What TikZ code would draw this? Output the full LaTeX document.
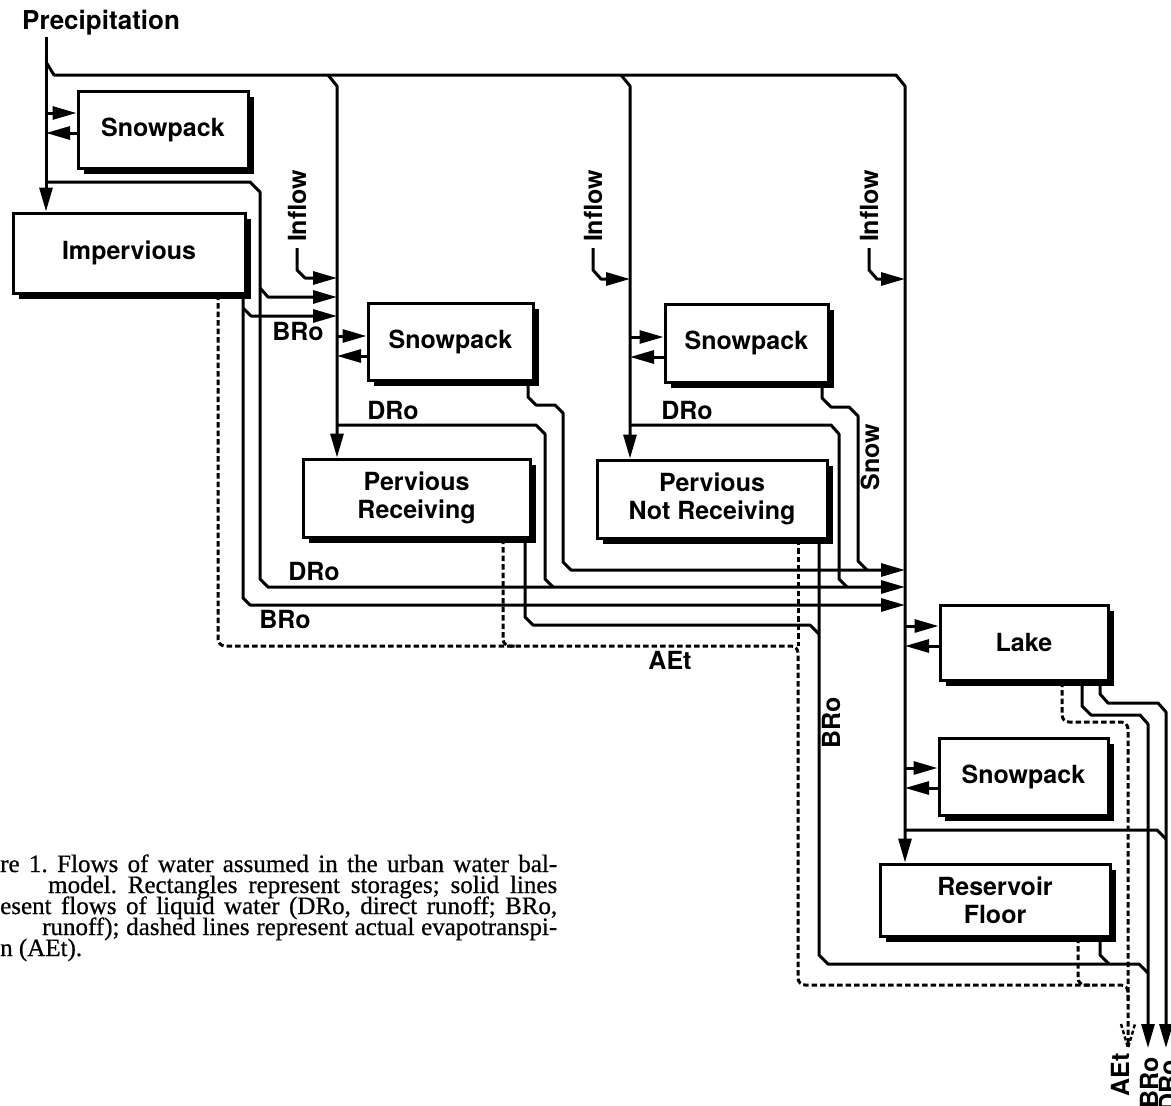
\documentclass[tikz,border=0pt]{standalone}
\usepackage{fontspec}
\setmainfont{Liberation Serif}[FakeBold=0.6]
\newfontfamily\hv{TeX Gyre Heros}
\usetikzlibrary{arrows.meta,shadows}
\newcommand\capfont{\fontsize{25}{21}\selectfont\frenchspacing\lineskiplimit=-50pt\relax}
\begin{document}
\begin{tikzpicture}[x=1pt,y=-1pt,
  lab/.style={font=\hv\bfseries\fontsize{25}{28}\selectfont, inner sep=0pt},
  store/.style={lab, draw, line width=3pt, fill=white, align=center,
    drop shadow={shadow xshift=5.5pt, shadow yshift=-5.5pt, fill=black, opacity=1}},
  flow/.style={line width=3pt, line join=round},
  arr/.style={flow, -{Triangle[length=24pt,width=13pt]}},
  aet/.style={line width=3pt, dash pattern=on 5.5pt off 3pt, rounded corners=7pt},
  captext/.style={inner sep=0pt, anchor=base west, font=\capfont},
]
\useasboundingbox (0,0) rectangle (1171,1106);

% ---------- storages ----------
\node[store, minimum width=170pt, minimum height=77pt] (snowA) at (163,129.5) {Snowpack};
\node[store, minimum width=232pt, minimum height=80pt] (imp) at (129,253) {Impervious};
\node[store, minimum width=165pt, minimum height=77pt] (snowB) at (450.5,341.5) {Snowpack};
\node[store, minimum width=227pt, minimum height=78pt] (pervR) at (416.5,498) {Pervious\\Receiving};
\node[store, minimum width=163pt, minimum height=78pt] (snowC) at (746.5,343) {Snowpack};
\node[store, minimum width=230pt, minimum height=78pt] (pervN) at (712,499) {Pervious\\Not Receiving};
\node[store, minimum width=168pt, minimum height=75pt] (lake) at (1024,642.5) {Lake};
\node[store, minimum width=169pt, minimum height=77pt] (snowD) at (1023.5,776.5) {Snowpack};
\node[store, minimum width=230pt, minimum height=72pt] (res) at (995,900) {Reservoir\\Floor};

% ---------- precipitation ----------
\node[lab, anchor=base west, font=\hv\bfseries\fontsize{26}{28}\selectfont] (prec) at (22,29) {Precipitation};
\coordinate (pTop) at (46,37);
\draw[arr] (pTop) -- (pTop |- imp.north);
\draw[arr] (46,62) -- (54,75) -- (896,75) -- (905,86) -- (905,0 |- res.north);
\draw[arr] (328,75) -- (337,86) -- (337,0 |- pervR.north);
\draw[arr] (621,75) -- (630,86) -- (630,0 |- pervN.north);

% snowpack A exchange
\draw[arr] (46,113) -- (46,113 -| snowA.west);
\draw[arr] (46,133 -| snowA.west) -- (46,133);

% bypass of precipitation / impervious runoff
\draw[arr] (46,182) -- (250,182) -- (260,192) -- (260,579) -- (268,587) -- (905,587);
\draw[arr] (260,288) -- (268,297) -- (337,297);
\draw[arr] (243,0 |- imp.south) -- (243,598) -- (250,605) -- (905,605);
\draw[arr] (243,308) -- (251,316) -- (337,316);

% inflows
\node[lab, rotate=90] (in1) at (297,206) {Inflow};
\node[lab, rotate=90] (in2) at (593,206) {Inflow};
\node[lab, rotate=90] (in3) at (869,206) {Inflow};
\draw[arr] ([yshift=-6pt]in1.west) -- (297,270) -- (305,278) -- (337,278);
\draw[arr] ([yshift=-6pt]in2.west) -- (593,270) -- (601,279) -- (630,279);
\draw[arr] ([yshift=-6pt]in3.west) -- (869,270) -- (877,279) -- (905,279);

% snowpack exchanges
\draw[arr] (337,336) -- (337,336 -| snowB.west);
\draw[arr] (337,356 -| snowB.west) -- (337,356);
\draw[arr] (630,337) -- (630,337 -| snowC.west);
\draw[arr] (630,357 -| snowC.west) -- (630,357);
\draw[arr] (905,626) -- (905,626 -| lake.west);
\draw[arr] (905,646 -| lake.west) -- (905,646);
\draw[arr] (905,768) -- (905,768 -| snowD.west);
\draw[arr] (905,788 -| snowD.west) -- (905,788);

% snowmelt
\draw[arr] (528,0 |- snowB.south) -- (528,397) -- (536,405) -- (555,405) -- (563,413)
  -- (563,562) -- (571,570) -- (905,570);
\draw[flow] (822,0 |- snowC.south) -- (822,398) -- (831,407) -- (849,407) -- (858,416)
  -- (858,561) -- (867,570);
\node[lab, rotate=90] (snowlbl) at (870,457) {Snow};

% direct runoff from pervious areas
\draw[flow] (337,425) -- (536,425) -- (545,434) -- (545,579) -- (553,587);
\draw[flow] (630,425) -- (831,425) -- (839,434) -- (839,579) -- (847,587);

% base runoff
\draw[flow] (525,0 |- pervR.south) -- (525,617) -- (533,625) -- (810,625) -- (819,634);
\draw[flow] (819,0 |- pervN.south) -- (819,955) -- (828,964) -- (1139,964) -- (1148,973);
\draw[flow] (1100,0 |- res.south) -- (1100,955) -- (1109,964);
\draw[arr] (1082,0 |- lake.south) -- (1082,706) -- (1091,715) -- (1140,715) -- (1148,724) -- (1148,1048);
\draw[arr] (1100,0 |- lake.south) -- (1100,694) -- (1108,703) -- (1158,703) -- (1166,712) -- (1166,1048);
\draw[flow] (905,830) -- (1157,830) -- (1166,839);

% evapotranspiration
\draw[aet] (218,0 |- imp.south) |- (798,646) -- (798,985) -- (1128,985) -- (1128,1000);
\draw[aet] (503,0 |- pervR.south) |- (518,646);
\draw[aet] (798,0 |- pervN.south) -- (798,646);
\draw[aet] (1062,0 |- lake.south) |- (1128,722) -- (1128,1046);
\draw[aet] (1078,0 |- res.south) |- (1092,985);
\draw[line width=2.4pt, dash pattern=on 4pt off 2.5pt] (1121,1024) -- (1128,1048) -- (1135,1024);

% flow labels
\node[lab] (bro1) at (298,331) {BRo};
\node[lab] (dro1) at (393,410) {DRo};
\node[lab] (dro2) at (687,410) {DRo};
\node[lab] (dro3) at (314,571) {DRo};
\node[lab] (bro2) at (285,619) {BRo};
\node[lab] (aet1) at (670,660) {AEt};
\node[lab, rotate=90] (bro3) at (831,723) {BRo};
\node[lab, rotate=90, anchor=east] (outA) at (1120,1053) {AEt};
\node[lab, rotate=90, anchor=east] (outB) at (1149,1057) {BRo};
\node[lab, rotate=90, anchor=east] (outD) at (1168,1060) {DRo};

% caption
\node[captext] (cap1) at (0,872) {\makebox[557pt][s]{re 1. Flows of water assumed in the urban water bal-}};
\node[captext] (cap2) at (48,893) {\makebox[509pt][s]{model. Rectangles represent storages; solid lines}};
\node[captext] (cap3) at (0,914) {\makebox[557pt][s]{esent flows of liquid water (DRo, direct runoff; BRo,}};
\node[captext] (cap4) at (42,935) {\makebox[515pt][s]{runoff); dashed lines represent actual evapotranspi-}};
\node[captext] (cap5) at (0,956) {n (AEt).};
\end{tikzpicture}
\end{document}
